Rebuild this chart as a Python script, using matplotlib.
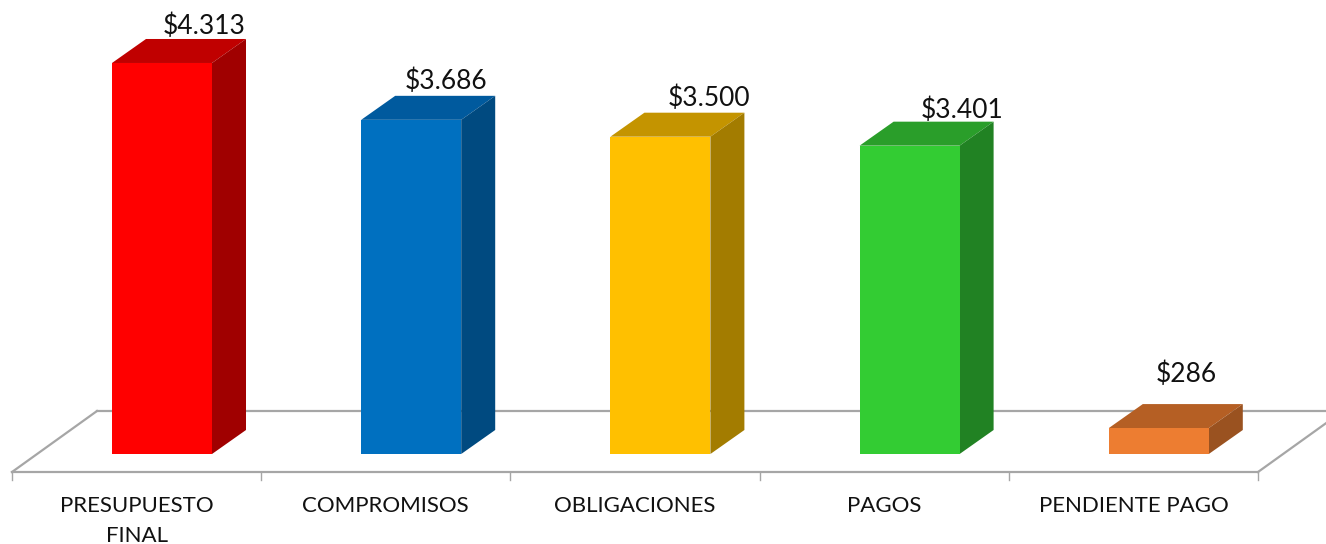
import matplotlib
matplotlib.use('Agg')
import matplotlib.pyplot as plt
from matplotlib.patches import Polygon

categories = ['PRESUPUESTO\nFINAL', 'COMPROMISOS', 'OBLIGACIONES', 'PAGOS', 'PENDIENTE PAGO']
values = [4313, 3686, 3500, 3401, 286]
value_labels = ['$4.313', '$3.686', '$3.500', '$3.401', '$286']

front_colors = ['#FF0000', '#0070C0', '#FFC000', '#33CC33', '#ED7D31']
top_colors = ['#C00000', '#005A9E', '#C49400', '#2A9E2A', '#B55F24']
side_colors = ['#A00000', '#004A80', '#A37C00', '#218223', '#9A5220']

# label offsets from the centre of the bar top, in pixels
label_dx = [42, 35, 49, 52, 27]
label_dy = [37, 39, 38, 35, 54]

W, H = 1326, 544
cat_px = 249.2       # width of one category
x0_px = 12.0         # left end of the floor
base_px = 454.0      # where value 0 sits
y_scale = 0.09066    # pixels per unit of value

fig = plt.figure(figsize=(W / 100, H / 100), dpi=100)
ax = fig.add_axes([0, 0, 1, 1])
ax.set_xlim(-0.5 - x0_px / cat_px, -0.5 + (W - x0_px) / cat_px)
ax.set_ylim(-(H - base_px) / y_scale, base_px / y_scale)
ax.axis('off')

plt.rcParams['font.family'] = ['Lato', 'DejaVu Sans']

n = len(values)
bar_w = 100 / cat_px
shift = 25.4 / cat_px     # bars sit right of the tick centre
dx = 34 / cat_px          # bar depth
dy = 24 / y_scale

# Floor
floor_front = -18 / y_scale
floor_dx = 85 / cat_px
floor_dy = 61 / y_scale
floor_c = '#A6A6A6'
left, right = -0.5, n - 0.5
ax.plot([left, right], [floor_front, floor_front], color=floor_c, lw=1.6, zorder=1)
ax.plot([left + floor_dx, ax.get_xlim()[1]], [floor_front + floor_dy] * 2, color=floor_c, lw=1.6, zorder=1)
ax.plot([left, left + floor_dx], [floor_front, floor_front + floor_dy], color=floor_c, lw=1.6, zorder=1)
ax.plot([right, right + floor_dx], [floor_front, floor_front + floor_dy], color=floor_c, lw=1.6, zorder=1)
for i in range(n + 1):
    ax.plot([left + i, left + i], [floor_front, floor_front - 8 / y_scale], color=floor_c, lw=1.0, zorder=1)

# Bars
for i, v in enumerate(values):
    xl = i + shift - bar_w / 2
    xr = i + shift + bar_w / 2
    ax.bar(i + shift, v, width=bar_w, color=front_colors[i], zorder=3)
    ax.add_patch(Polygon([(xl, v), (xr, v), (xr + dx, v + dy), (xl + dx, v + dy)],
                         closed=True, facecolor=top_colors[i], edgecolor='none', zorder=2))
    ax.add_patch(Polygon([(xr, 0), (xr + dx, dy), (xr + dx, v + dy), (xr, v)],
                         closed=True, facecolor=side_colors[i], edgecolor='none', zorder=2))
    ax.annotate(value_labels[i], (i + shift, v), xytext=(label_dx[i], label_dy[i]),
                textcoords='offset pixels', ha='center', va='center',
                fontsize=19, color='#111111', zorder=4)
    ax.text(i, floor_front - 24 / y_scale, categories[i], ha='center', va='top',
            fontsize=16, color='#111111', linespacing=1.65, zorder=4)

plt.savefig('out.png', dpi=100)
